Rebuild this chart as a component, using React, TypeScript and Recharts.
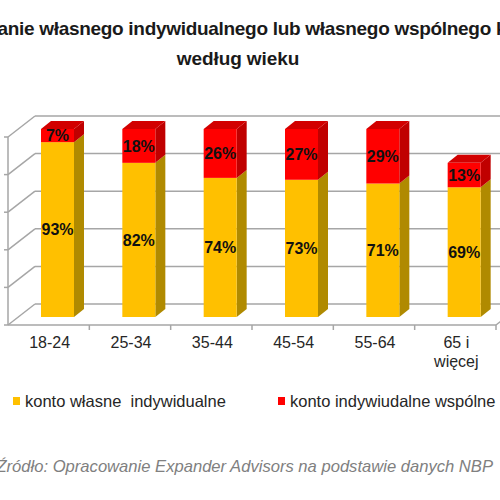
import React from 'react';
import { BarChart, Bar, XAxis, YAxis, CartesianGrid, LabelList, ReferenceLine } from 'recharts';

const categories = ['18-24', '25-34', '35-44', '45-54', '55-64', '65 i więcej'];
const wlasneIndywidualne = [93, 82, 74, 73, 71, 69];
const indywidualneWspolne = [7, 18, 26, 27, 29, 13];
const yTicks = [0, 20, 40, 60, 80, 100];

const data = categories.map((name, i) => ({
  name,
  wlasne: wlasneIndywidualne[i],
  wspolne: indywidualneWspolne[i],
}));

// pseudo-3D geometry
const DX = 10; // bar depth
const DY = 8;
const WALL_DX = 18; // from bar front plane to back wall
const WALL_DY = 13;
const FLOOR_DX = 9; // from bar front plane to front floor edge
const FLOOR_DY = 8;

const CHART_W = 520;
const CHART_H = 500;
const MARGIN = { top: 129, right: 15, bottom: 153, left: 17 };
const PLOT_W = CHART_W - MARGIN.left - MARGIN.right;
const PLOT_H = CHART_H - MARGIN.top - MARGIN.bottom - 30;
const BAND = PLOT_W / categories.length;
const GRID = '#a6a6a6';

const makeShape = (front: string, side: string, top: string, withTop: boolean) => (props: any) => {
  const { x, y, width, height } = props;
  if (!height) return null;
  return (
    <g>
      <polygon
        points={`${x + width},${y} ${x + width + DX},${y - DY} ${x + width + DX},${y + height - DY} ${x + width},${y + height}`}
        fill={side}
      />
      {withTop && (
        <polygon points={`${x},${y} ${x + DX},${y - DY} ${x + width + DX},${y - DY} ${x + width},${y}`} fill={top} />
      )}
      <rect x={x} y={y} width={width} height={height} fill={front} />
    </g>
  );
};

const YellowShape = makeShape('#ffc000', '#b08a00', '#e0a800', false);
const RedShape = makeShape('#ff0000', '#c00000', '#d20000', true);

const GridLine = (p: any) => {
  const { x1, x2, y1 } = p;
  const bx = x1 + WALL_DX;
  const by = y1 - WALL_DY;
  const fx = x1 - FLOOR_DX;
  const fy = y1 + FLOOR_DY;
  const isBottom = Math.abs(y1 - (MARGIN.top + PLOT_H)) < 1;
  return (
    <g key={p.key}>
      <line x1={bx} y1={by} x2={x2 + WALL_DX} y2={by} stroke={GRID} strokeWidth={1.5} />
      <line x1={bx} y1={by} x2={fx} y2={fy} stroke={GRID} strokeWidth={1.5} />
      <line x1={fx - 4} y1={fy} x2={fx} y2={fy} stroke={GRID} strokeWidth={1.5} />
      {!isBottom && <line x1={fx} y1={fy} x2={fx} y2={fy + PLOT_H / 5} stroke={GRID} strokeWidth={1.5} />}
    </g>
  );
};

const FloorEdge = (p: any) => {
  const { x1, x2, y1 } = p;
  const fy = y1 + FLOOR_DY;
  const ticks = categories.map((_, i) => x1 - FLOOR_DX + BAND * (i + 1));
  return (
    <g>
      <line x1={x1 - FLOOR_DX} y1={fy} x2={x2 - FLOOR_DX} y2={fy} stroke={GRID} strokeWidth={1.5} />
      <line x1={x2 - FLOOR_DX} y1={fy} x2={x2 + WALL_DX} y2={y1 - WALL_DY} stroke={GRID} strokeWidth={1.5} />
      {ticks.map((t, i) => (
        <line key={i} x1={t} y1={fy} x2={t} y2={fy + 5} stroke={GRID} strokeWidth={1.5} />
      ))}
    </g>
  );
};

const CategoryTick = (props: any) => {
  const { x, payload } = props;
  const parts = payload.value === '65 i więcej' ? ['65 i', 'więcej'] : [payload.value];
  return (
    <g>
      {parts.map((t: string, i: number) => (
        <text
          key={i}
          x={x - 8}
          y={MARGIN.top + PLOT_H + 27 + i * 19}
          textAnchor="middle"
          dominantBaseline="middle"
          fontSize={16}
          fill="#262626"
          fontFamily="'Liberation Sans', Arial, sans-serif"
        >
          {t}
        </text>
      ))}
    </g>
  );
};

const pct = (v: any) => `${v}%`;

const LegendItem = ({ color, label, left }: { color: string; label: string; left: number }) => (
  <div style={{ position: 'absolute', left, top: 390, height: 22, display: 'flex', alignItems: 'center', whiteSpace: 'pre' }}>
    <span style={{ width: 7, height: 8, background: color, display: 'inline-block', marginRight: 5 }} />
    <span style={{ fontSize: 16.5, color: '#262626' }}>{label}</span>
  </div>
);

const titleStyle: React.CSSProperties = {
  position: 'absolute',
  width: 800,
  textAlign: 'center',
  fontWeight: 'bold',
  fontSize: 19,
  lineHeight: '30px',
  color: '#1a1a1a',
  whiteSpace: 'nowrap',
};

export default function App() {
  return (
    <div
      style={{
        position: 'fixed',
        left: 0,
        top: 0,
        width: 500,
        height: 500,
        overflow: 'hidden',
        background: '#fff',
        fontFamily: "'Liberation Sans', Arial, sans-serif",
      }}
    >
      <div style={{ ...titleStyle, left: 241 - 400, top: 14, letterSpacing: -0.3 }}>
        Posiadanie własnego indywidualnego lub własnego wspólnego konta
      </div>
      <div style={{ ...titleStyle, left: 238 - 400, top: 44, letterSpacing: -0.1 }}>według wieku</div>

      <div style={{ position: 'absolute', left: 0, top: 0 }}>
        <BarChart width={CHART_W} height={CHART_H} data={data} margin={MARGIN} barSize={33}>
          <CartesianGrid vertical={false} horizontal={(p: any) => <GridLine {...p} />} />
          <XAxis dataKey="name" axisLine={false} tickLine={false} height={30} interval={0} tick={<CategoryTick />} />
          <YAxis hide domain={[0, 100]} ticks={yTicks} />
          <ReferenceLine y={0} shape={(p: any) => <FloorEdge {...p} />} />
          <Bar dataKey="wlasne" stackId="a" fill="#ffc000" shape={YellowShape} isAnimationActive={false}>
            <LabelList dataKey="wlasne" position="center" formatter={pct} fill="#111" fontSize={16} fontWeight="bold" />
          </Bar>
          <Bar dataKey="wspolne" stackId="a" fill="#ff0000" shape={RedShape} isAnimationActive={false}>
            <LabelList dataKey="wspolne" position="center" formatter={pct} fill="#111" fontSize={16} fontWeight="bold" />
          </Bar>
        </BarChart>
      </div>

      <LegendItem color="#ffc000" label="konto własne  indywidualne" left={13} />
      <LegendItem color="#ff0000" label="konto indywiudalne wspólne" left={278} />

      <div
        style={{
          position: 'absolute',
          right: 7,
          top: 457,
          fontSize: 16.6,
          fontStyle: 'italic',
          color: '#808080',
          whiteSpace: 'nowrap',
        }}
      >
        Źródło: Opracowanie Expander Advisors na podstawie danych NBP
      </div>
    </div>
  );
}
